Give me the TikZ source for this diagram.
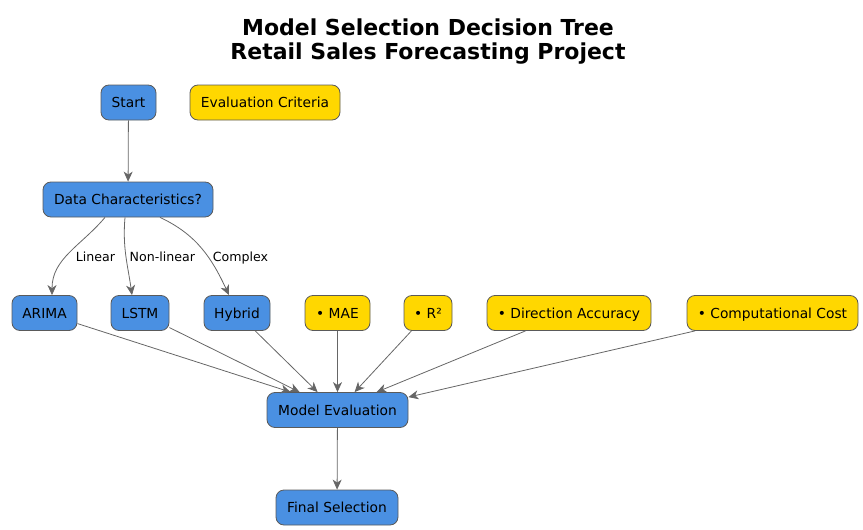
\documentclass[tikz,border=0pt]{standalone}
\usepackage{fontspec}
\setmainfont{DejaVu Sans}
\usetikzlibrary{arrows.meta,calc}
\definecolor{bluebox}{HTML}{4A90E2}
\definecolor{goldbox}{HTML}{FFD700}
\definecolor{edgegray}{HTML}{666666}
\definecolor{bordergray}{HTML}{5A5A5A}
\begin{document}
\begin{tikzpicture}[x=1pt,y=-1pt,
  box/.style={draw=bordergray, line width=0.8pt, rounded corners=8pt, minimum height=35pt, inner sep=0pt, text height=13pt, text depth=3pt, font=\fontsize{13.8}{16}\selectfont, text=black},
  bluen/.style={box, fill=bluebox},
  goldn/.style={box, fill=goldbox},
  conn/.style={draw=edgegray, line width=0.8pt, -{Stealth[length=10pt,width=9pt,inset=3pt]}},
  elabel/.style={font=\fontsize{12.6}{15}\selectfont, text=black},
  ttl/.style={font=\bfseries\fontsize{22}{24}\selectfont, align=center}
]
\useasboundingbox (0,0) rectangle (863,530);
\node[ttl] (title) at (428,42) {Model Selection Decision Tree\\Retail Sales Forecasting Project};

\node[bluen, minimum width=55pt] (start) at (128.5,102.5) {Start};
\node[goldn, minimum width=150pt] (crit) at (265,102.5) {Evaluation Criteria};
\node[bluen, minimum width=170pt] (data) at (128,199.5) {Data Characteristics?};
\node[bluen, minimum width=65pt] (arima) at (44.5,313) {ARIMA};
\node[bluen, minimum width=58pt] (lstm) at (140,313) {LSTM};
\node[bluen, minimum width=66pt] (hybrid) at (237,313) {Hybrid};
\node[goldn, minimum width=65pt] (mae) at (337.5,313) {• MAE};
\node[goldn, minimum width=48pt] (rsq) at (428,313) {• R²};
\node[goldn, minimum width=164pt] (dir) at (569,313) {• Direction Accuracy};
\node[goldn, minimum width=171pt] (cost) at (772.5,313) {• Computational Cost};
\node[bluen, minimum width=141pt] (me) at (337.5,410) {Model Evaluation};
\node[bluen, minimum width=122pt] (final) at (337,507.5) {Final Selection};

\draw[conn] (start) -- (data);
\draw[conn] ($(data.south)+(-23,0)$) to[out=-130,in=90] node[elabel, pos=0.56, right=6pt] {Linear} ($(arima.north)+(7.5,0)$);
\draw[conn] ($(data.south)+(-3,0)$) to[out=-95,in=98] node[elabel, pos=0.5, right=0pt] {Non-linear} ($(lstm.north)+(-8,0)$);
\draw[conn] ($(data.south)+(32,0)$) to[out=-25,in=115] node[elabel, pos=0.62, right=0pt] {Complex} ($(hybrid.north)+(-8,0)$);

\draw[conn] (arima) -- ($(me.north west)+(24,0)$);
\draw[conn] (lstm) -- ($(me.north west)+(33,0)$);
\draw[conn] (hybrid) -- ($(me.north west)+(51,0)$);
\draw[conn] (mae) -- (me);
\draw[conn] (rsq) -- ($(me.north west)+(88,0)$);
\draw[conn] (dir) -- ($(me.north west)+(110,0)$);
\draw[conn] (cost) -- ($(me.north east)+(0,5)$);
\draw[conn] (me) -- (final);
\end{tikzpicture}
\end{document}
